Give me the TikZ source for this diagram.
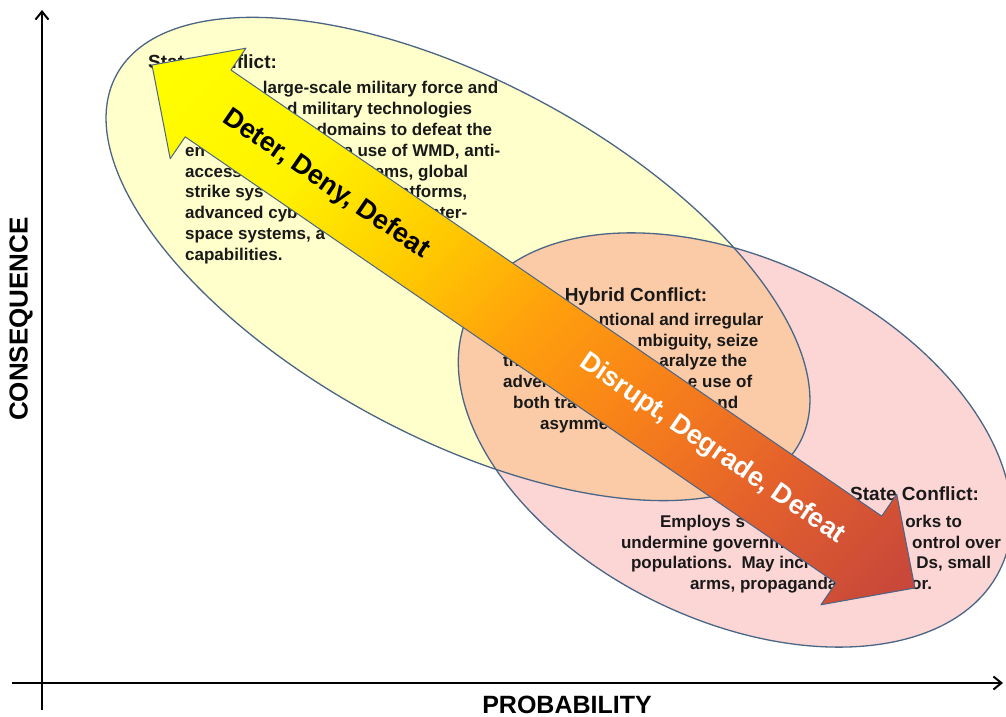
\documentclass[tikz,border=0pt]{standalone}
\usepackage{fontspec}
\setmainfont{Liberation Sans}
\usetikzlibrary{arrows.meta}
\definecolor{blobyellow}{HTML}{FFFFCC}
\definecolor{blobpink}{HTML}{FCD6D5}
\definecolor{blobpeach}{HTML}{FACBA6}
\definecolor{blobline}{HTML}{4A6585}
\definecolor{armA}{HTML}{FFFF00}
\definecolor{armB}{HTML}{FFF200}
\definecolor{armC}{HTML}{FFCC00}
\definecolor{armD}{HTML}{FF9F0D}
\definecolor{armE}{HTML}{F77F1A}
\definecolor{armF}{HTML}{E4612C}
\definecolor{armG}{HTML}{C4443C}
\pgfdeclarehorizontalshading{armshade}{100bp}{color(0bp)=(armA); color(14.6bp)=(armA);
  color(28.8bp)=(armB); color(39.4bp)=(armC); color(50bp)=(armD); color(60.6bp)=(armE);
  color(71.2bp)=(armF); color(85.4bp)=(armG); color(100bp)=(armG)}
\begin{document}
\begin{tikzpicture}[x=1pt, y=-1pt, line join=round,
    axisline/.style={line width=2pt, -{Straight Barb[length=8pt,width=13pt]}},
    axislabel/.style={font=\fontsize{25}{27}\selectfont\bfseries, inner sep=0pt},
    oval/.style={draw=blobline, line width=1.3pt},
    blobtitle/.style={font=\fontsize{19}{22}\selectfont\bfseries, inner sep=0pt, text=black!90},
    blobtext/.style={font=\fontsize{17}{20.8}\selectfont\bfseries, inner sep=0pt, text=black!90},
    armtext/.style={font=\fontsize{27}{30}\selectfont\bfseries, inner sep=0pt, transform shape}]
  \useasboundingbox[fill=white] (0,0) rectangle (1006,717);

  % axes
  \coordinate (yfoot) at (42,710);
  \coordinate (ytop) at (42,10);
  \coordinate (xfoot) at (12,683);
  \coordinate (xtop) at (1003,683);
  \draw[axisline] (yfoot) -- (ytop);
  \draw[axisline] (xfoot) -- (xtop);
  \node[axislabel, anchor=base] (problabel) at (567,713) {PROBABILITY};
  \node[axislabel, rotate=90, font=\fontsize{26}{28}\selectfont\bfseries] (conlabel) at (21,319) {CONSEQUENCE};

  % the two conflict ovals and their overlap
  \coordinate (ystate) at (458,259);
  \coordinate (nstate) at (735,440);
  \fill[blobyellow, rotate around={-28.3:(ystate)}] (ystate) ellipse [x radius=388, y radius=178];
  \fill[blobpink, rotate around={-26:(nstate)}] (nstate) ellipse [x radius=295, y radius=180];
  \begin{scope}
    \clip[rotate around={-28.3:(ystate)}] (ystate) ellipse [x radius=388, y radius=178];
    \fill[blobpeach, rotate around={-26:(nstate)}] (nstate) ellipse [x radius=295, y radius=180];
  \end{scope}
  \draw[oval, rotate around={-28.3:(ystate)}] (ystate) ellipse [x radius=388, y radius=178];
  \draw[oval, rotate around={-26:(nstate)}] (nstate) ellipse [x radius=295, y radius=180];

  % texts
  \node[blobtitle, anchor=base west] (ytitle) at (148,68) {State Conflict:};
  \node[blobtext, anchor=north west, align=left] (ybody) at (148,81.3) {%
    \makebox[350pt][r]{large-scale military force and}\\
    \makebox[324pt][r]{d military technologies}\\
    \makebox[344pt][r]{domains to defeat the}\\
    \hspace*{37pt}\makebox[315pt][l]{en\hfill e use of WMD, anti-}\\
    \hspace*{37pt}\makebox[283pt][l]{access\hfill tems, global}\\
    \hspace*{37pt}\makebox[282pt][l]{strike sys\hfill platforms,}\\
    \hspace*{37pt}\makebox[282pt][l]{advanced cyb\hfill nter-}\\
    \hspace*{37pt}space systems, a\\
    \hspace*{37pt}capabilities.};

  \node[blobtitle, anchor=base] (htitle) at (636,301.7) {Hybrid Conflict:};
  \node[blobtext, anchor=north west, align=left] (hbody) at (503,312.8) {%
    \makebox[260pt][r]{ntional and irregular}\\
    \makebox[255pt][r]{mbiguity, seize}\\
    \makebox[244pt][l]{th\hfill aralyze the}\\
    \makebox[249pt][l]{adver\hfill e use of}\\
    \hspace*{10pt}\makebox[225pt][l]{both tra\hfill nd}\\
    \hspace*{37pt}asymmet};

  \node[blobtitle, anchor=base west] (ntitle) at (850,500) {State Conflict:};
  \node[blobtext, anchor=north, align=center] (nbody) at (811,514.8) {%
    \makebox[302pt][l]{Employs s\hfill orks to}\\
    \makebox[380pt][l]{undermine governm\hfill ontrol over}\\
    \makebox[360pt][l]{populations.\ \ May incl\hfill Ds, small}\\
    \makebox[242pt][l]{arms, propaganda\hfill or.}};

  % double arrow across the ovals
  \coordinate (tipA) at (152,65);
  \begin{scope}[shift={(tipA)}, rotate=-34.43]
    \shadedraw[shading=armshade, shading angle=-45, draw=blobline, line width=1pt]
      (0,0) -- (68,-67) -- (68,-40.5) -- (857,-40.5) -- (857,-67) -- (925,0)
      -- (857,67) -- (857,40.5) -- (68,40.5) -- (68,67) -- cycle;
    \node[armtext, text=black] (deter) at (211,0) {Deter, Deny, Defeat};
    \node[armtext, text=white] (disrupt) at (679,0) {Disrupt, Degrade, Defeat};
  \end{scope}
\end{tikzpicture}
\end{document}
